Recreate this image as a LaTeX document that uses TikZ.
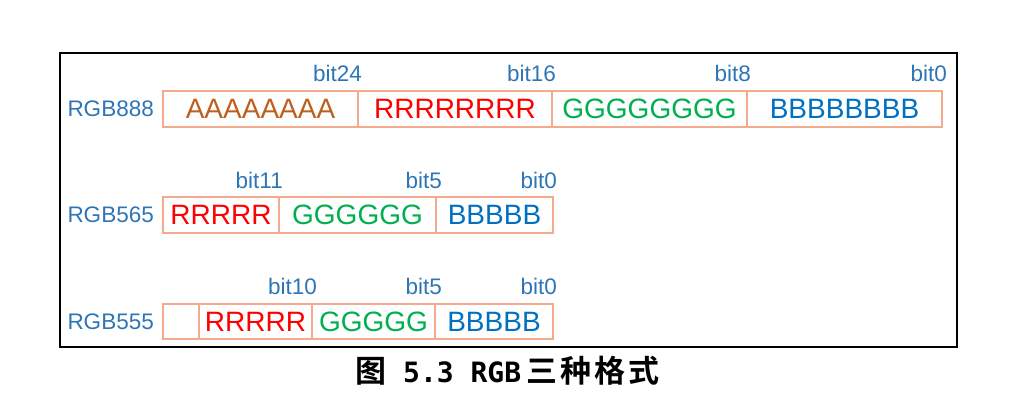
\documentclass[tikz,border=0pt]{standalone}
\usepackage{fontspec}
\setmainfont{Liberation Sans}
\newfontfamily\cjkb{Noto Sans CJK SC Bold}
\newfontfamily\monob{DejaVu Sans Mono Bold}
\definecolor{lblblue}{RGB}{46,117,182}
\definecolor{boxc}{RGB}{244,170,140}
\definecolor{cA}{RGB}{190,95,30}
\definecolor{cR}{RGB}{255,0,0}
\definecolor{cG}{RGB}{0,176,80}
\definecolor{cB}{RGB}{0,112,192}
\begin{document}
\begin{tikzpicture}[x=1pt,y=-1pt,
  lbl/.style={font=\fontsize{22.5}{24}\selectfont, text=lblblue, inner sep=0pt},
  cell/.style={draw=boxc, line width=1.3pt, inner sep=0pt, font=\fontsize{28}{29}\selectfont},
]
\useasboundingbox (0,0) rectangle (1020,406);
\draw[line width=1.5pt] (60,53) rectangle (957,347);
% row 1
\node[cell, minimum width=195pt, minimum height=36pt, text=cA] (a1) at (260.5,109) {AAAAAAAA};
\node[cell, minimum width=194pt, minimum height=36pt, text=cR] (r1) at (455,109) {RRRRRRRR};
\node[cell, minimum width=195pt, minimum height=36pt, text=cG] (g1) at (649.5,109) {GGGGGGGG};
\node[cell, minimum width=195pt, minimum height=36pt, text=cB] (b1) at (844.5,109) {BBBBBBBB};
\node[lbl, anchor=east] (n1) at (154,109) {RGB888};
\node[lbl, anchor=east] (t24) at (362,73) {bit24};
\node[lbl, anchor=east] (t16) at (556,73) {bit16};
\node[lbl, anchor=east] (t8) at (751,73) {bit8};
\node[lbl, anchor=east] (t0a) at (947,73) {bit0};
% row 2
\node[cell, minimum width=116pt, minimum height=36pt, text=cR] (r2) at (221,215) {RRRRR};
\node[cell, minimum width=157pt, minimum height=36pt, text=cG] (g2) at (357.5,215) {GGGGGG};
\node[cell, minimum width=117pt, minimum height=36pt, text=cB] (b2) at (494.5,215) {BBBBB};
\node[lbl, anchor=east] (n2) at (154,215) {RGB565};
\node[lbl, anchor=east] (t11) at (283,180) {bit11};
\node[lbl, anchor=east] (t5a) at (442,180) {bit5};
\node[lbl, anchor=east] (t0b) at (557,180) {bit0};
% row 3
\node[cell, minimum width=36pt, minimum height=35pt] (x3) at (181,321.5) {};
\node[cell, minimum width=113pt, minimum height=35pt, text=cR] (r3) at (255.5,321.5) {RRRRR};
\node[cell, minimum width=123pt, minimum height=35pt, text=cG] (g3) at (373.5,321.5) {GGGGG};
\node[cell, minimum width=118pt, minimum height=35pt, text=cB] (b3) at (494,321.5) {BBBBB};
\node[lbl, anchor=east] (n3) at (154,321.5) {RGB555};
\node[lbl, anchor=east] (t10) at (317,286) {bit10};
\node[lbl, anchor=east] (t5b) at (442,286) {bit5};
\node[lbl, anchor=east] (t0c) at (557,286) {bit0};
% caption
\node[inner sep=0pt, anchor=base west, font=\fontsize{31}{32}\selectfont] (cap) at (355,382)
  {{\cjkb 图}\hspace{17pt}{\monob\fontsize{28}{29}\selectfont 5.3 RGB}\hspace{5pt}{\cjkb 三\hspace{3pt}种\hspace{3pt}格\hspace{3pt}式}};
\end{tikzpicture}
\end{document}
